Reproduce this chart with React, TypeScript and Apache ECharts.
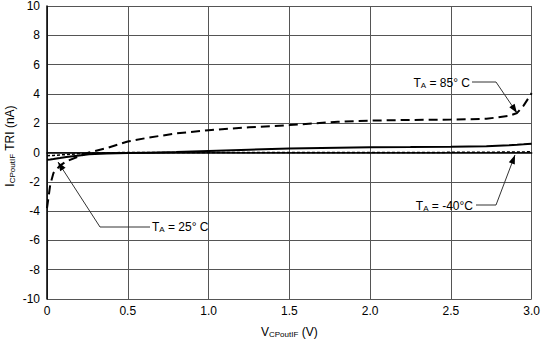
import React, { useEffect, useRef } from "react";
import * as echarts from "echarts";

const vOut = [0, 0.02, 0.04, 0.08, 0.12, 0.2, 0.26, 0.37, 0.5, 0.63, 0.8, 1.0, 1.25, 1.5, 1.8, 2.0, 2.25, 2.5, 2.72, 2.86, 2.91, 2.95, 3.0];
const i85 = [-3.8, -2.2, -1.4, -0.9, -0.6, -0.25, 0, 0.3, 0.75, 1.02, 1.3, 1.52, 1.72, 1.87, 2.1, 2.18, 2.22, 2.25, 2.3, 2.5, 2.7, 3.2, 4.05];
const i25 = [-0.5, -0.48, -0.45, -0.38, -0.3, -0.2, -0.12, -0.07, -0.04, -0.01, 0.03, 0.1, 0.19, 0.27, 0.33, 0.36, 0.37, 0.39, 0.42, 0.5, 0.53, 0.56, 0.6];
const im40 = [-0.22, -0.21, -0.2, -0.17, -0.14, -0.08, -0.05, -0.02, 0, 0, 0, 0, 0, 0, 0, 0, 0, 0.01, 0.02, 0.03, 0.04, 0.04, 0.05];

const xMin = 0, xMax = 3, xStep = 0.5;
const yMin = -10, yMax = 10, yStep = 2;

const labels85 = "{m|T}{s|A}{m| = 85° C}";
const labels25 = "{m|T}{s|A}{m| = 25° C}";
const labelsM40 = "{m|T}{s|A}{m| = -40°C}";

const FONT = "'Liberation Sans', Arial, sans-serif";

function arrowHead(x1: number, y1: number, x2: number, y2: number) {
  const dx = x2 - x1, dy = y2 - y1;
  const len = Math.sqrt(dx * dx + dy * dy);
  const ux = dx / len, uy = dy / len;
  const L = 9, w = 3.2;
  const bx = x2 - ux * L, by = y2 - uy * L;
  return {
    type: "polygon",
    shape: { points: [[x2, y2], [bx - uy * w, by + ux * w], [bx + uy * w, by - ux * w]] },
    style: { fill: "#000" },
    z: 100,
  };
}

function leader(pts: number[][]) {
  const n = pts.length;
  return [
    { type: "polyline", shape: { points: pts }, style: { stroke: "#333", lineWidth: 1, fill: null }, z: 100 },
    arrowHead(pts[n - 2][0], pts[n - 2][1], pts[n - 1][0], pts[n - 1][1]),
  ];
}

const rich = {
  m: { fontSize: 12, fontFamily: FONT, color: "#000", lineHeight: 14, verticalAlign: "bottom" },
  s: { fontSize: 8, fontFamily: FONT, color: "#000", lineHeight: 14, verticalAlign: "bottom" },
};

function label(text: string, x: number, y: number, align: string) {
  return {
    type: "text",
    x,
    y,
    z: 100,
    style: { text, rich, align, verticalAlign: "middle", fontFamily: FONT },
  };
}

export default function App() {
  const ref = useRef<HTMLDivElement>(null);
  useEffect(() => {
    if (!ref.current) return;
    const chart = echarts.init(ref.current, null, { renderer: "svg" });
    const zip = (ys: number[]) => vOut.map((x, i) => [x, ys[i]]);
    chart.setOption({
      animation: false,
      backgroundColor: "#fff",
      grid: { left: 47, right: 8, top: 5, bottom: 41, containLabel: false },
      xAxis: {
        type: "value",
        min: xMin,
        max: xMax,
        interval: xStep,
        name: "{m|V}{s|CPoutIF}{m| (V)}",
        nameLocation: "middle",
        nameGap: 25,
        nameTextStyle: { rich },
        axisLine: { show: true, lineStyle: { color: "#000", width: 1.5 } },
        axisTick: { show: false },
        axisLabel: {
          color: "#000",
          fontSize: 12,
          fontFamily: FONT,
          margin: 6,
          formatter: (v: number) => (v === 0 ? "0" : v.toFixed(1)),
        },
        splitLine: { show: true, lineStyle: { color: "#555", width: 1 } },
      },
      yAxis: {
        type: "value",
        min: yMin,
        max: yMax,
        interval: yStep,
        axisLine: { show: true, lineStyle: { color: "#000", width: 1.5 } },
        axisTick: { show: false },
        axisLabel: { color: "#000", fontSize: 12, fontFamily: FONT, margin: 7 },
        splitLine: { show: true, lineStyle: { color: "#555", width: 1 } },
      },
      series: [
        {
          type: "line",
          data: zip(i85),
          showSymbol: false,
          lineStyle: { color: "#000", width: 2, type: [9, 5] },
          z: 5,
        },
        {
          type: "line",
          data: zip(i25),
          showSymbol: false,
          lineStyle: { color: "#000", width: 2, type: "solid" },
          z: 5,
        },
        {
          type: "line",
          data: zip(im40),
          showSymbol: false,
          lineStyle: { color: "#000", width: 1.5, type: [3, 2] },
          z: 5,
        },
      ],
      graphic: [
        ...leader([[472, 82], [496, 82], [517, 113]]),
        ...leader([[476, 205], [496, 205], [515, 155]]),
        ...leader([[150, 227], [100, 227], [58, 162]]),
        label(labels85, 470, 82, "right"),
        label(labelsM40, 473, 205, "right"),
        label(labels25, 152, 226, "left"),
        {
          type: "text",
          x: 9,
          y: 146,
          rotation: Math.PI / 2,
          z: 100,
          style: {
            text: "{m|I}{s|CPoutIF}{m| TRI (nA)}",
            rich,
            align: "center",
            verticalAlign: "middle",
          },
        },
      ],
    });
    return () => chart.dispose();
  }, []);
  return <div ref={ref} style={{ position: "fixed", left: 0, top: 0, width: 543, height: 343 }} />;
}
